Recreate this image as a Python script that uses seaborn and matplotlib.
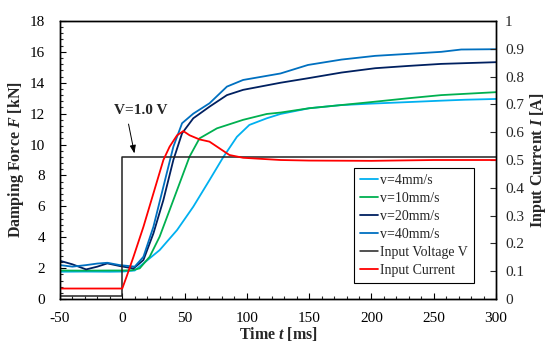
import matplotlib
matplotlib.use("Agg")
import matplotlib.pyplot as plt
import seaborn as sns
import numpy as np
import pandas as pd
from matplotlib.ticker import MultipleLocator

# ---- data ----
t_v4 = [-50, -30, -10, 0, 10, 17, 30, 44, 57, 70, 81, 92, 102, 116, 127, 150, 175, 200, 230, 256, 275, 300]
f_v4 = [1.77, 1.78, 1.77, 1.78, 1.85, 2.31, 3.17, 4.47, 5.98, 7.7, 9.18, 10.5, 11.27, 11.7, 11.98, 12.35, 12.55, 12.65, 12.75, 12.84, 12.9, 12.95]

t_v10 = [-50, -30, -10, 0, 8, 14, 22, 30, 38, 46, 54, 62, 76, 97, 116, 127, 150, 175, 200, 230, 256, 300]
f_v10 = [1.85, 1.84, 1.85, 1.85, 1.87, 1.99, 2.74, 4.04, 5.76, 7.49, 9.22, 10.4, 11.05, 11.6, 11.98, 12.07, 12.35, 12.55, 12.75, 13.0, 13.2, 13.39]

t_v20 = [-50, -40, -29, -20, -12, -2, 9, 17, 25, 33, 41, 48, 57, 70, 84, 97, 127, 149, 176, 203, 230, 256, 300]
f_v20 = [2.48, 2.25, 1.92, 2.1, 2.31, 2.14, 1.98, 2.53, 4.25, 6.41, 9.0, 10.73, 11.7, 12.45, 13.2, 13.54, 14.0, 14.29, 14.66, 14.94, 15.09, 15.22, 15.33]

t_v40 = [-50, -40, -29, -20, -12, -2, 10, 17, 25, 33, 41, 48, 57, 70, 84, 97, 127, 149, 176, 203, 230, 256, 272, 300]
f_v40 = [2.2, 2.1, 2.2, 2.3, 2.35, 2.2, 2.1, 2.74, 4.68, 7.27, 9.86, 11.38, 12.0, 12.67, 13.75, 14.18, 14.6, 15.15, 15.5, 15.74, 15.87, 16.0, 16.15, 16.17]

t_volt = [-50, 0, 0, 300]
volt_scaled = [0.011, 0.011, 0.51, 0.51]

t_cur = [-50, 0, 3.5, 9, 17, 25, 33, 38, 44, 49, 54, 62, 70, 78, 86, 97, 127, 150, 200, 250, 300]
cur = [0.038, 0.038, 0.081, 0.152, 0.26, 0.38, 0.5, 0.548, 0.589, 0.604, 0.589, 0.574, 0.566, 0.542, 0.518, 0.508, 0.5, 0.498, 0.497, 0.5, 0.5]

labels = ["v=4mm/s", "v=10mm/s", "v=20mm/s", "v=40mm/s", "Input Voltage V", "Input Current"]
colors = ["#00B0F0", "#00B050", "#002060", "#0070C0", "#222222", "#FF0000"]

x_ticks = [-50, 0, 50, 100, 150, 200, 250, 300]
y_left_ticks = [0, 2, 4, 6, 8, 10, 12, 14, 16, 18]
y_right_ticks = [0, 0.1, 0.2, 0.3, 0.4, 0.5, 0.6, 0.7, 0.8, 0.9, 1]

# ---- style ----
sns.set_theme(style="ticks")
plt.rcParams["font.family"] = ["Liberation Serif", "DejaVu Serif"]
plt.rcParams["axes.unicode_minus"] = False
plt.rcParams["mathtext.fontset"] = "custom"
plt.rcParams["mathtext.it"] = "Liberation Serif:italic:bold"
plt.rcParams["mathtext.rm"] = "Liberation Serif:bold"
plt.rcParams["mathtext.bf"] = "Liberation Serif:bold"

fig = plt.figure(figsize=(5.5, 3.43), dpi=100)
ax = fig.add_axes([0.109, 0.128, 0.793, 0.811])
ax2 = ax.twinx()

lw = 1.3
force_sets = [(t_v4, f_v4), (t_v10, f_v10), (t_v20, f_v20), (t_v40, f_v40)]
handles = []
for (tt, ff), lab, col in zip(force_sets, labels[:4], colors[:4]):
    sns.lineplot(x=tt, y=ff, ax=ax, color=col, lw=lw, estimator=None, sort=False, legend=False)
    handles.append(ax.lines[-1])

sns.lineplot(x=t_volt, y=volt_scaled, ax=ax2, color=colors[4], lw=1.1, estimator=None, sort=False, legend=False)
handles.append(ax2.lines[-1])
sns.lineplot(x=t_cur, y=cur, ax=ax2, color=colors[5], lw=lw, estimator=None, sort=False, legend=False)
handles.append(ax2.lines[-1])

ax.set_xlim(-50, 300)
ax.set_ylim(0, 18)
ax2.set_ylim(0, 1)
ax.set_xticks(x_ticks)
ax.set_yticks(y_left_ticks)
ax2.set_yticks(y_right_ticks)
ax2.set_yticklabels([("%g" % v) for v in y_right_ticks])
ax.xaxis.set_minor_locator(MultipleLocator(10))
ax.yaxis.set_minor_locator(MultipleLocator(0.4))

ax.tick_params(axis="both", which="major", direction="in", length=4, width=0.8, labelsize=11, colors="black")
ax.tick_params(axis="x", which="major", pad=9)
ax.tick_params(axis="y", which="major", pad=10.5)
ax.tick_params(axis="both", which="minor", direction="in", length=2.5, width=0.8)
ax.tick_params(axis="x", which="both", top=False)
ax2.tick_params(axis="y", which="major", direction="in", length=4, width=0.8, labelsize=11, pad=6.5)
ax2.tick_params(axis="y", which="minor", right=False)

for a in (ax, ax2):
    for s in a.spines.values():
        s.set_visible(True)
        s.set_color("black")
        s.set_linewidth(1.0)

ax.set_xlabel("Time $t$ [ms]", fontsize=11.5, fontweight="bold", labelpad=0)
ax.set_ylabel("Damping Force $F$ [kN]", fontsize=11.5, fontweight="bold", labelpad=3)
ax2.set_ylabel("Input Current $I$ [A]", fontsize=11.5, fontweight="bold", labelpad=3)

# annotation
ax.annotate("", xy=(10.2, 9.25), xytext=(4.6, 11.5),
            arrowprops=dict(arrowstyle="-|>,head_length=0.4,head_width=0.15", color="black", lw=0.7))
ax.text(15, 12.2, "V=1.0 V", ha="center", va="center", fontsize=11, fontweight="bold")

leg = ax2.legend(handles, labels, loc="upper left", bbox_to_anchor=(0.674, 0.471),
                 borderaxespad=0, fontsize=10, frameon=True, fancybox=False,
                 edgecolor="black", framealpha=1, handlelength=1.3, handletextpad=0.1,
                 labelspacing=0.35, borderpad=0.45)
leg.get_frame().set_linewidth(0.8)

fig.savefig("out.png", dpi=100)
